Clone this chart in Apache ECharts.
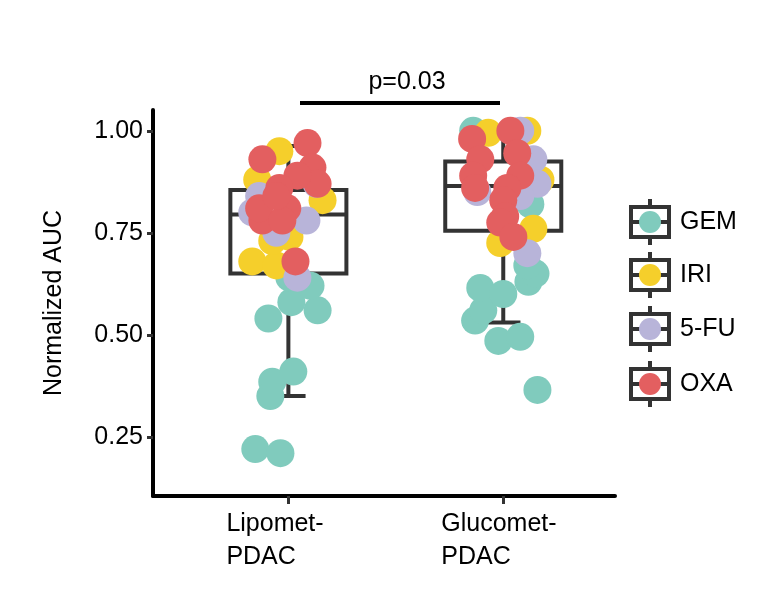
<!DOCTYPE html>
<html>
<head>
<meta charset="utf-8">
<script src="https://cdn.jsdelivr.net/npm/echarts@6/dist/echarts.min.js"></script>
<style>
  body { margin: 0; background: #fff; }
  #chart { width: 764px; height: 597px; }
</style>
</head>
<body>
<div id="chart"></div>
<script>
// groups and y ticks
var groups = ['Lipomet-\nPDAC', 'Glucomet-\nPDAC'];
var yTicks = [0.25, 0.5, 0.75, 1.0];

// box stats: [x, lowWhisker, q1, median, q3, highWhisker]
var boxStats = [
  [1, 0.35, 0.65, 0.795, 0.855, 0.963],
  [2, 0.53, 0.755, 0.865, 0.925, 1.0]
];

// points [x (jittered), normalized AUC]
var gemPts = [
  [0.846, 0.22], [0.963, 0.21], [0.925, 0.385], [0.916, 0.35], [1.023, 0.41],
  [0.907, 0.54], [1.014, 0.58], [1.136, 0.56], [1.103, 0.62], [1.005, 0.64],
  [2.159, 0.365], [1.977, 0.485], [2.079, 0.495], [1.869, 0.535], [1.907, 0.56],
  [1.893, 0.615], [2.0, 0.6], [2.117, 0.63], [2.150, 0.65], [2.112, 0.67],
  [1.86, 1.0], [2.126, 0.82]
];
var iriPts = [
  [0.958, 0.95], [0.832, 0.68], [0.944, 0.67], [0.925, 0.73], [1.159, 0.83],
  [0.855, 0.88], [1.005, 0.74],
  [1.93, 0.995], [2.112, 1.0], [1.986, 0.725], [2.14, 0.76], [2.173, 0.88]
];
var fuPts = [
  [1.042, 0.64], [1.084, 0.78], [0.864, 0.84], [0.944, 0.75], [1.131, 0.87], [0.832, 0.80],
  [2.112, 0.70], [2.14, 0.93], [2.079, 1.0], [2.159, 0.87], [1.879, 0.85], [2.079, 0.84]
];
var oxaPts = [
  [1.089, 0.97], [0.879, 0.93], [1.112, 0.91], [1.136, 0.87], [1.042, 0.89], [0.958, 0.86],
  [0.995, 0.81], [0.879, 0.78], [0.864, 0.81], [0.972, 0.78], [1.033, 0.68], [0.944, 0.84],
  [2.033, 1.0], [1.855, 0.98], [2.065, 0.945], [1.893, 0.93], [1.86, 0.89], [1.869, 0.86],
  [2.079, 0.89], [2.019, 0.86], [2.0, 0.83], [2.009, 0.79], [1.986, 0.775], [2.047, 0.74]
];

var drugs = ['GEM', 'IRI', '5-FU', 'OXA'];
var colors = ['#80cbbd', '#f5cf2b', '#b8b4d9', '#e35f60'];
var pointSets = [gemPts, iriPts, fuPts, oxaPts];

var font = 'Liberation Sans, Arial, sans-serif';
var dark = '#333333';

var chart = echarts.init(document.getElementById('chart'));

var boxSeries = {
  type: 'custom',
  z: 1,
  silent: true,
  data: boxStats,
  renderItem: function (params, api) {
    var x = api.value(0);
    var hw = 0.27, cap = 0.08;
    var p = function (dx, v) { return api.coord([x + dx, v]); };
    var st = { stroke: dark, lineWidth: 4, fill: null };
    var tl = p(-hw, api.value(4)), br = p(hw, api.value(2));
    return {
      type: 'group',
      children: [
        { type: 'line', shape: { x1: p(0, api.value(1))[0], y1: p(0, api.value(1))[1], x2: p(0, api.value(2))[0], y2: p(0, api.value(2))[1] }, style: st },
        { type: 'line', shape: { x1: p(0, api.value(4))[0], y1: p(0, api.value(4))[1], x2: p(0, api.value(5))[0], y2: p(0, api.value(5))[1] }, style: st },
        { type: 'line', shape: { x1: p(-cap, api.value(1))[0], y1: p(0, api.value(1))[1], x2: p(cap, api.value(1))[0], y2: p(0, api.value(1))[1] }, style: st },
        { type: 'line', shape: { x1: p(-cap, api.value(5))[0], y1: p(0, api.value(5))[1], x2: p(cap, api.value(5))[0], y2: p(0, api.value(5))[1] }, style: st },
        { type: 'rect', shape: { x: tl[0], y: tl[1], width: br[0] - tl[0], height: br[1] - tl[1] }, style: { stroke: dark, lineWidth: 4, fill: '#fff' } },
        { type: 'line', shape: { x1: p(-hw, api.value(3))[0], y1: p(0, api.value(3))[1], x2: p(hw, api.value(3))[0], y2: p(0, api.value(3))[1] }, style: st }
      ]
    };
  }
};

var series = [boxSeries];
pointSets.forEach(function (pts, i) {
  series.push({
    name: drugs[i],
    type: 'scatter',
    z: 2 + i,
    symbolSize: 28,
    itemStyle: { color: colors[i], opacity: 1 },
    data: pts
  });
});

// legend keys drawn like ggplot boxplot+point keys
var legendGraphics = [];
var legendY = [222, 275, 329, 384];
drugs.forEach(function (d, i) {
  var cy = legendY[i];
  legendGraphics.push(
    { type: 'line', shape: { x1: 650, y1: cy - 23, x2: 650, y2: cy + 23 }, style: { stroke: dark, lineWidth: 4 } },
    { type: 'rect', shape: { x: 631, y: cy - 15, width: 38, height: 30 }, style: { stroke: dark, lineWidth: 4, fill: '#fff' } },
    { type: 'line', shape: { x1: 631, y1: cy, x2: 669, y2: cy }, style: { stroke: dark, lineWidth: 4 } },
    { type: 'circle', shape: { cx: 650, cy: cy, r: 11 }, style: { fill: colors[i] } },
    { type: 'text', x: 680, y: cy, style: { text: d, font: '25px ' + font, fill: '#000', textVerticalAlign: 'middle' } }
  );
});

chart.setOption({
  animation: false,
  grid: { left: 153, right: 149, top: 110, bottom: 101 },
  xAxis: {
    type: 'value',
    min: 0.37,
    max: 2.52,
    splitLine: { show: false },
    axisLine: { lineStyle: { color: '#000', width: 4 } },
    axisTick: { customValues: [1, 2], length: 8, lineStyle: { color: '#333', width: 3 } },
    axisLabel: {
      customValues: [1, 2],
      formatter: function (v) { return groups[Math.round(v) - 1]; },
      color: '#000', fontSize: 25, fontFamily: font, lineHeight: 33, margin: 12, align: 'left',
      padding: [0, 0, 0, -62]
    }
  },
  yAxis: {
    type: 'value',
    min: 0.105,
    max: 1.051,
    name: 'Normalized AUC',
    nameLocation: 'middle',
    nameGap: 86,
    nameTextStyle: { color: '#000', fontSize: 25, fontFamily: font },
    splitLine: { show: false },
    axisLine: { show: true, lineStyle: { color: '#000', width: 4 } },
    axisTick: { show: true, customValues: yTicks, length: 6, lineStyle: { color: '#333', width: 3 } },
    axisLabel: {
      customValues: yTicks,
      formatter: function (v) { return v.toFixed(2); },
      color: '#000', fontSize: 25, fontFamily: font, margin: 10
    }
  },
  graphic: [
    { type: 'line', shape: { x1: 300, y1: 103, x2: 500, y2: 103 }, style: { stroke: '#000', lineWidth: 4 } },
    { type: 'text', x: 407, y: 82, style: { text: 'p=0.03', font: '25px ' + font, fill: '#000', textAlign: 'center', textVerticalAlign: 'middle' } }
  ].concat(legendGraphics),
  series: series
});
</script>
</body>
</html>
